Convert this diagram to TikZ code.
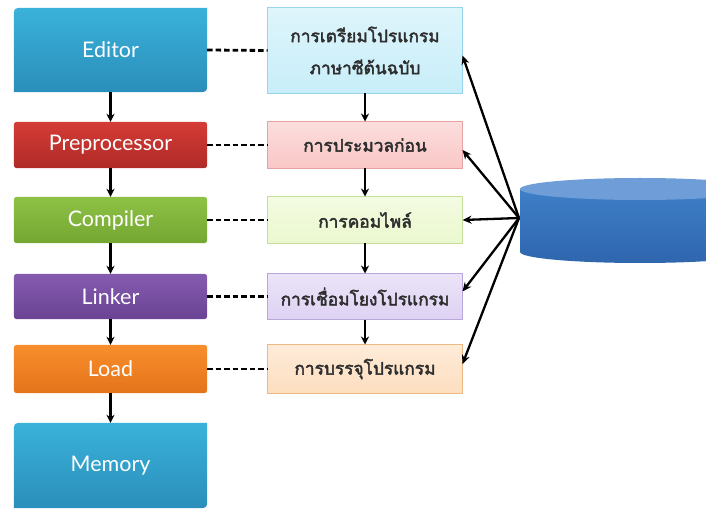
\documentclass[tikz,border=0pt]{standalone}
\usepackage{fontspec}
\setmainfont{Lato}
\newfontfamily\thaifont[Script=Thai,AutoFakeBold=2.5]{Loma}
\usetikzlibrary{arrows.meta,calc}
\pgfdeclarelayer{bg}
\pgfsetlayers{bg,main}
\definecolor{edT}{HTML}{3AB2DA}\definecolor{edB}{HTML}{2A8EBA}
\definecolor{prT}{HTML}{D43C36}\definecolor{prB}{HTML}{B02A27}
\definecolor{coT}{HTML}{8EC245}\definecolor{coB}{HTML}{74A632}
\definecolor{liT}{HTML}{845BAE}\definecolor{liB}{HTML}{6B4395}
\definecolor{loT}{HTML}{F78E2C}\definecolor{loB}{HTML}{E5741B}
\definecolor{r1f}{HTML}{C8EEF9}\definecolor{r1d}{HTML}{98D5EC}
\definecolor{r2f}{HTML}{F9C7C6}\definecolor{r2d}{HTML}{E5A3A3}
\definecolor{r3f}{HTML}{EBF8CE}\definecolor{r3d}{HTML}{C6DE9C}
\definecolor{r4f}{HTML}{DED2F3}\definecolor{r4d}{HTML}{BBA6DB}
\definecolor{r5f}{HTML}{FDDEBF}\definecolor{r5d}{HTML}{EFB781}
\definecolor{dbT}{HTML}{3E7FC7}\definecolor{dbB}{HTML}{2F66AE}
\definecolor{dbtop}{HTML}{6E9DD8}
\definecolor{thtxt}{HTML}{2E2E2E}
\tikzset{
  lbl/.style={text=white,font=\fontsize{21.5}{25}\selectfont,minimum width=193pt,inner sep=0pt},
  rbox/.style={text=thtxt,font=\thaifont\bfseries\fontsize{17.3}{32}\selectfont,minimum width=194pt,inner sep=0pt,align=center,line width=1pt},
  flow/.style={line width=2.3pt,-{Stealth[length=8pt,width=8pt]}},
  dashline/.style={line width=2.8pt,dash pattern=on 5.5pt off 3pt},
  dbarrow/.style={line width=2.3pt,-{Stealth[length=9pt,width=8pt]}}
}
\begin{document}
\begin{tikzpicture}[x=1pt,y=-1pt]
\useasboundingbox (0,0) rectangle (706,510);
% left column
\node[lbl,minimum height=84pt] (editor) at (110.5,50) {Editor};
\node[lbl,minimum height=46pt] (pre) at (110.5,145) {Preprocessor};
\node[lbl,minimum height=46pt] (comp) at (110.5,220) {Compiler};
\node[lbl,minimum height=45pt] (link) at (110.5,296.5) {Linker};
\node[lbl,minimum height=48pt] (load) at (110.5,369) {Load};
\node[lbl,minimum height=85pt] (mem) at (110.5,465.5) {Memory};
% right column
\node[rbox,minimum height=85pt] (r1) at (365,50.5) {การเตรียมโปรแกรม\\ภาษาซีต้นฉบับ};
\node[rbox,minimum height=46pt] (r2) at (365,145) {การประมวลก่อน};
\node[rbox,minimum height=46pt] (r3) at (365,220) {การคอมไพล์};
\node[rbox,minimum height=45pt] (r4) at (365,296.5) {การเชื่อมโยงโปรแกรม};
\node[rbox,minimum height=48pt] (r5) at (365,369) {การบรรจุโปรแกรม};
\begin{pgfonlayer}{bg}
  \foreach \n/\t/\b in {editor/edT/edB,mem/edT/edB}{
    \shade[top color=\t,bottom color=\b]
      (\n.south west) -- ($(\n.north west)+(0,10)$) .. controls (\n.north west) .. ($(\n.north west)+(10,0)$)
      -- (\n.north east) -- ($(\n.south east)+(0,-10)$) .. controls (\n.south east) .. ($(\n.south east)+(-10,0)$) -- cycle;
  }
  \foreach \n/\t/\b in {pre/prT/prB,comp/coT/coB,link/liT/liB,load/loT/loB}{
    \shade[top color=\t,bottom color=\b,rounded corners=3pt] (\n.south west) rectangle (\n.north east);
  }
  \foreach \n/\f/\d in {r1/r1f/r1d,r2/r2f/r2d,r3/r3f/r3d,r4/r4f/r4d,r5/r5f/r5d}{
    \shade[top color=\f!60!white,bottom color=\f,draw=\d,line width=1.2pt] (\n.south west) rectangle (\n.north east);
  }
  % database cylinder
  \shade[top color=dbT,bottom color=dbB] (520,189) -- (520,252) arc[start angle=180,end angle=0,x radius=120,y radius=11] -- (760,189) -- cycle;
  \fill[dbtop] (640,189) ellipse[x radius=120,y radius=11];
\end{pgfonlayer}
\coordinate (db) at (519,218);
% vertical flows
\draw[flow] (editor) -- (pre);
\draw[flow] (pre) -- (comp);
\draw[flow] (comp) -- (link);
\draw[flow] (link) -- (load);
\draw[flow] (load) -- (mem);
\draw[flow] (r1) -- (r2);
\draw[flow] (r2) -- (r3);
\draw[flow] (r3) -- (r4);
\draw[flow] (r4) -- (r5);
% dashed links
\foreach \a/\b in {editor/r1,pre/r2,comp/r3,link/r4,load/r5}
  \draw[dashline] (\a.east) -- (\b.west);
% database arrows
\draw[dbarrow] (db) -- ($(r1.east)+(0,5)$);
\draw[dbarrow] (db) -- ($(r2.east)+(0,5)$);
\draw[dbarrow] (db) -- (r3.east);
\draw[dbarrow] (db) -- ($(r4.east)+(0,-5)$);
\draw[dbarrow] (db) -- ($(r5.east)+(0,-5)$);
\end{tikzpicture}
\end{document}
